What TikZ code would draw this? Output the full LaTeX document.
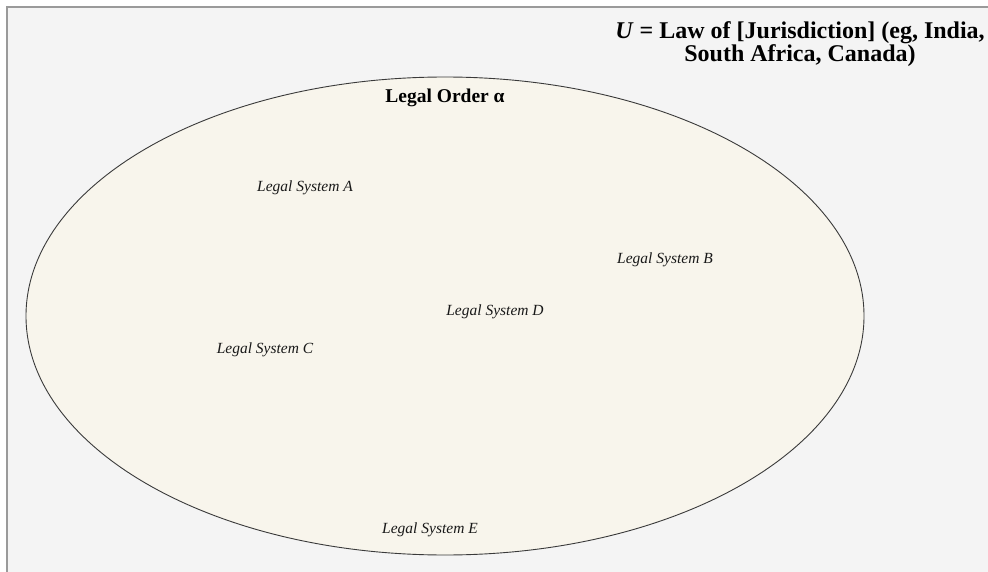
\documentclass[tikz,border=0pt]{standalone}
\usepackage{fontspec}
\usetikzlibrary{shapes.geometric}
\setmainfont{Liberation Serif}
\definecolor{bgfill}{HTML}{F4F4F4}
\definecolor{bgline}{HTML}{9A9A9A}
\definecolor{ellfill}{HTML}{F8F5EC}
\definecolor{ellline}{HTML}{3A3A3A}
\tikzset{
  sys/.style={font=\fontsize{15.5}{18}\selectfont\itshape, text=black!90, inner sep=0pt, anchor=base},
  ttl/.style={font=\fontsize{24}{22.7}\selectfont\bfseries, align=center, inner sep=0pt},
  ord/.style={font=\fontsize{19.5}{22}\selectfont\bfseries, inner sep=0pt, anchor=base}
}
\begin{document}
\begin{tikzpicture}[x=1pt,y=-1pt]
\useasboundingbox (0,0) rectangle (988,572);
\fill[bgfill] (7,7) rectangle (990,574);
\draw[bgline, line width=1.5pt] (7,574) -- (7,7) -- (990,7);
\node[draw=ellline, fill=ellfill, line width=0.9pt, ellipse, minimum width=838pt, minimum height=478pt, inner sep=0pt] (ord) at (445,316) {};
\node[ttl] (u) at (800,44) {\textit{U} = Law of [Jurisdiction] (eg, India,\\South Africa, Canada)};
\node[ord] (lo) at (445,103) {Legal Order α};
\node[sys] (a) at (305,192) {Legal System A};
\node[sys] (b) at (665,263) {Legal System B};
\node[sys] (d) at (495,315) {Legal System D};
\node[sys] (c) at (265,353) {Legal System C};
\node[sys] (e) at (430,533) {Legal System E};
\end{tikzpicture}
\end{document}
